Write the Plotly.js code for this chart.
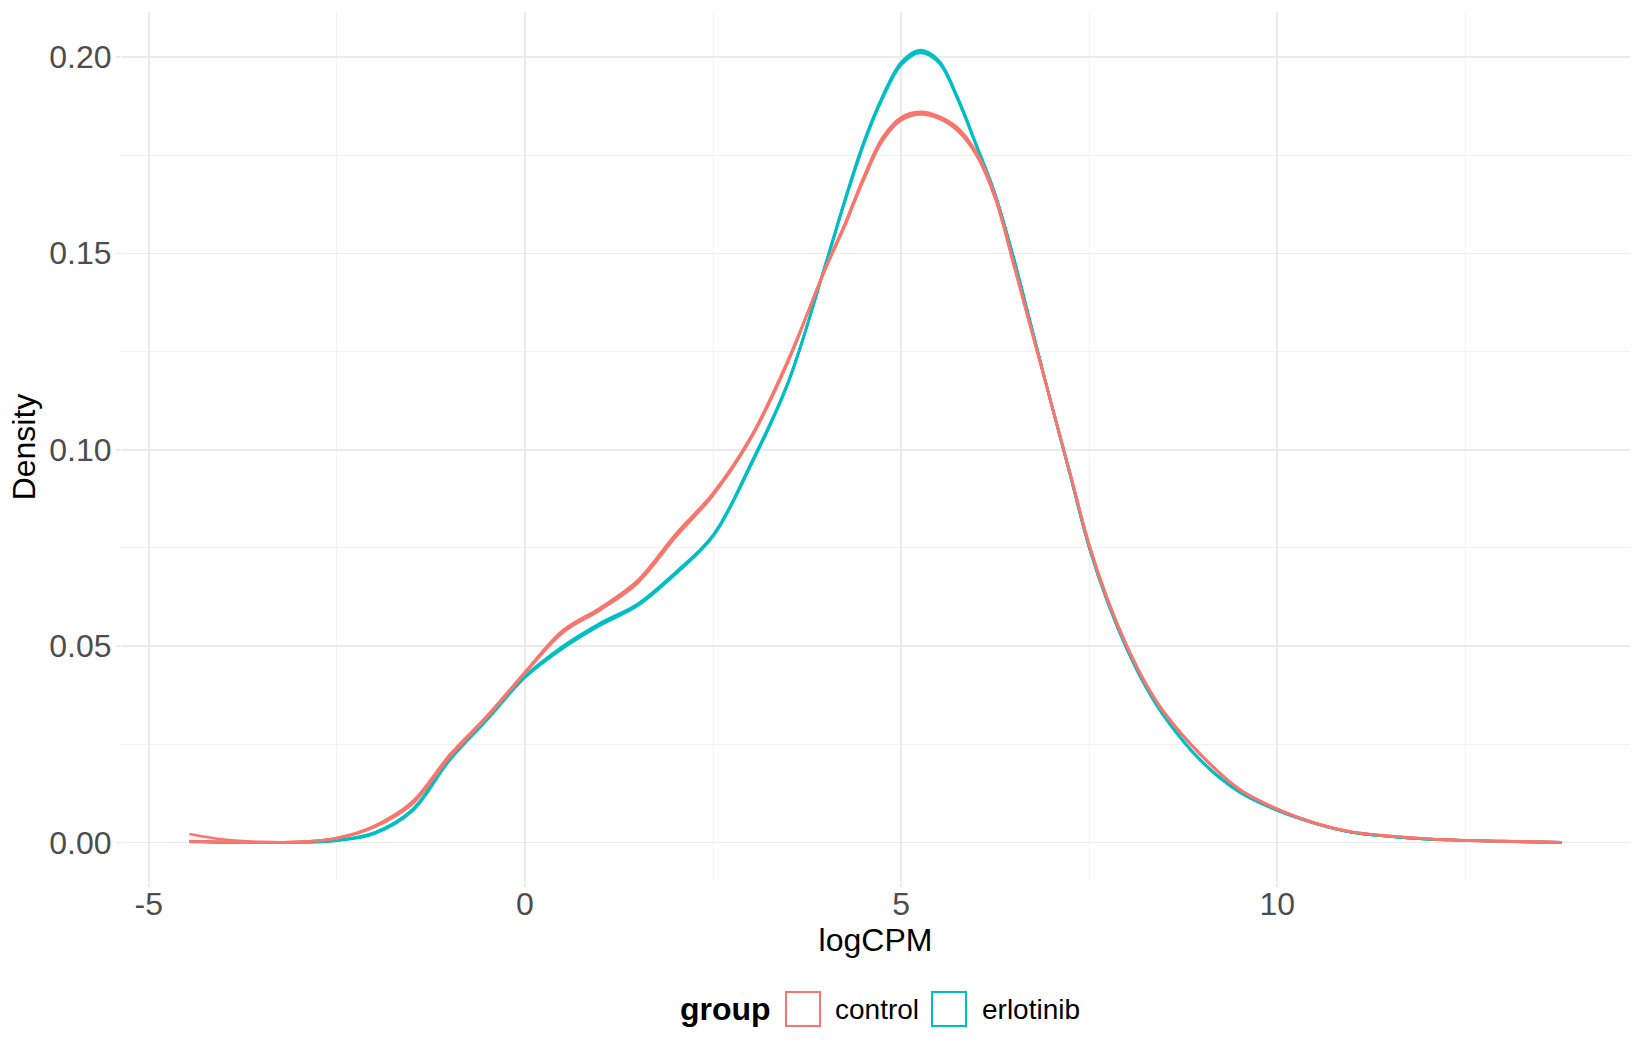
<!DOCTYPE html>
<html>
<head>
<meta charset="utf-8">
<script src="https://cdn.plot.ly/plotly-3.0.1.min.js"></script>
<style>
  html, body { margin: 0; padding: 0; background: white; }
  #plot { width: 1650px; height: 1050px; }
</style>
</head>
<body>
<div id="plot"></div>
<script>
// logCPM density per sample
const logcpm = [-4.46, -4, -3.5, -3, -2.5, -2, -1.5, -1, -0.5, 0,
                0.5, 1, 1.5, 2, 2.5, 3, 3.5, 4, 4.25, 4.5,
                4.75, 5, 5.25, 5.5, 5.75, 6, 6.25, 6.5, 6.75, 7,
                7.25, 7.5, 7.75, 8, 8.25, 8.5, 9, 9.5, 10, 10.5,
                11, 11.5, 12, 12.5, 13, 13.78];

const control1 = [0.0022, 0.0008, 0.0002, 0.0002, 0.0012, 0.0042, 0.0102, 0.0222, 0.0322, 0.0433,
                  0.0538, 0.0596, 0.0665, 0.0782, 0.0888, 0.1030, 0.1228, 0.1465, 0.1572, 0.1690,
                  0.1790, 0.1842, 0.1856, 0.1846, 0.1815, 0.1752, 0.1642, 0.1470, 0.1292, 0.1115,
                  0.0938, 0.0758, 0.0616, 0.0501, 0.0406, 0.0331, 0.0221, 0.0136, 0.0086, 0.0050,
                  0.0027, 0.0017, 0.0010, 0.0006, 0.0004, 0.0001];
const control2 = [0.0003, 0.0002, 0.0001, 0.0002, 0.0011, 0.0040, 0.0098, 0.0218, 0.0320, 0.0431,
                  0.0534, 0.0592, 0.0661, 0.0777, 0.0884, 0.1027, 0.1224, 0.1466, 0.1574, 0.1693,
                  0.1794, 0.1846, 0.1860, 0.1849, 0.1820, 0.1757, 0.1646, 0.1473, 0.1293, 0.1115,
                  0.0937, 0.0757, 0.0615, 0.0500, 0.0405, 0.0330, 0.0220, 0.0135, 0.0085, 0.0050,
                  0.0027, 0.0017, 0.0010, 0.0006, 0.0004, 0.0001];
const control3 = [0.0004, 0.0002, 0.0001, 0.0002, 0.0012, 0.0043, 0.0104, 0.0224, 0.0324, 0.0434,
                  0.0540, 0.0598, 0.0668, 0.0785, 0.0890, 0.1032, 0.1230, 0.1462, 0.1568, 0.1685,
                  0.1785, 0.1838, 0.1853, 0.1843, 0.1812, 0.1750, 0.1640, 0.1468, 0.1291, 0.1116,
                  0.0939, 0.0759, 0.0617, 0.0502, 0.0406, 0.0331, 0.0221, 0.0136, 0.0086, 0.0050,
                  0.0027, 0.0017, 0.0010, 0.0006, 0.0004, 0.0001];

const erlotinib1 = [0.0003, 0.0001, 0.0001, 0.0001, 0.0006, 0.0025, 0.0082, 0.0212, 0.0315, 0.0422,
                    0.0497, 0.0556, 0.0606, 0.0686, 0.0781, 0.0962, 0.1172, 0.1474, 0.1632, 0.1778,
                    0.1895, 0.1982, 0.2013, 0.1988, 0.1895, 0.1775, 0.1650, 0.1485, 0.1300, 0.1115,
                    0.0934, 0.0752, 0.0610, 0.0494, 0.0398, 0.0321, 0.0206, 0.0129, 0.0083, 0.0049,
                    0.0026, 0.0016, 0.0009, 0.0006, 0.0003, 0.0001];
const erlotinib2 = [0.0002, 0.0001, 0.0001, 0.0001, 0.0005, 0.0023, 0.0080, 0.0210, 0.0313, 0.0420,
                    0.0494, 0.0553, 0.0603, 0.0683, 0.0779, 0.0958, 0.1170, 0.1476, 0.1635, 0.1782,
                    0.1899, 0.1986, 0.2017, 0.1991, 0.1898, 0.1777, 0.1652, 0.1487, 0.1301, 0.1115,
                    0.0933, 0.0751, 0.0609, 0.0493, 0.0397, 0.0320, 0.0205, 0.0128, 0.0082, 0.0049,
                    0.0026, 0.0016, 0.0009, 0.0006, 0.0003, 0.0001];
const erlotinib3 = [0.0003, 0.0001, 0.0001, 0.0001, 0.0006, 0.0026, 0.0084, 0.0214, 0.0317, 0.0424,
                    0.0500, 0.0559, 0.0608, 0.0688, 0.0783, 0.0964, 0.1174, 0.1472, 0.1629, 0.1775,
                    0.1892, 0.1979, 0.2010, 0.1985, 0.1892, 0.1773, 0.1648, 0.1483, 0.1299, 0.1115,
                    0.0935, 0.0753, 0.0611, 0.0495, 0.0399, 0.0322, 0.0207, 0.0130, 0.0084, 0.0050,
                    0.0026, 0.0016, 0.0009, 0.0006, 0.0003, 0.0001];

const groups = ['control', 'erlotinib'];
const xTickVals = [-5, 0, 5, 10];
const xTickText = ['-5', '0', '5', '10'];

// ggplot default hues
const colors = { control: '#F8766D', erlotinib: '#00BFC4' };

// plot panel in pixels
const W = 1650, H = 1050;
const margin = { l: 121, r: 20, t: 12, b: 168 };
const panelW = W - margin.l - margin.r;
const panelH = H - margin.t - margin.b;
function px(x) { return (x - margin.l) / panelW; }
function py(y) { return (H - margin.b - y) / panelH; }

function densityTrace(y, group) {
    return {
        x: logcpm,
        y: y,
        type: 'scatter',
        mode: 'lines',
        name: group,
        showlegend: false,
        line: { color: colors[group], width: 2.6, shape: 'spline', smoothing: 1 },
        hoverinfo: 'skip'
    };
}

const data = [
    densityTrace(erlotinib1, 'erlotinib'),
    densityTrace(erlotinib2, 'erlotinib'),
    densityTrace(erlotinib3, 'erlotinib'),
    densityTrace(control1, 'control'),
    densityTrace(control2, 'control'),
    densityTrace(control3, 'control')
];

// hand-drawn legend to match ggplot's outlined keys
const keyBoxes = [
    { x0: 786, x1: 820, group: groups[0], textX: 833 },
    { x0: 932, x1: 966, group: groups[1], textX: 980 }
];
const shapes = keyBoxes.map(k => ({
    type: 'rect', xref: 'paper', yref: 'paper',
    x0: px(k.x0), x1: px(k.x1), y0: py(1026), y1: py(992),
    line: { color: colors[k.group], width: 2 },
    fillcolor: 'white'
}));
const annotations = keyBoxes.map(k => ({
    xref: 'paper', yref: 'paper', x: px(k.textX), y: py(1009),
    xanchor: 'left', yanchor: 'middle', showarrow: false,
    text: k.group,
    font: { family: 'Liberation Sans, Arial, sans-serif', size: 28, color: '#000000' }
}));
annotations.push({
    xref: 'paper', yref: 'paper', x: px(773), y: py(1009),
    xanchor: 'right', yanchor: 'middle', showarrow: false,
    text: '<b>group</b>',
    font: { family: 'Liberation Sans, Arial, sans-serif', size: 32, color: '#000000' }
});

const layout = {
    width: W,
    height: H,
    margin: margin,
    paper_bgcolor: 'white',
    plot_bgcolor: 'white',
    showlegend: false,
    font: { family: 'Liberation Sans, Arial, sans-serif', color: '#000000' },
    xaxis: {
        title: { text: 'logCPM', font: { size: 32, color: '#000000' }, standoff: 1 },
        range: [-5.37, 14.69],
        tickvals: xTickVals,
        ticktext: xTickText,
        tickfont: { size: 32, color: '#4D4D4D' },
        ticks: 'outside',
        ticklen: 4,
        tickwidth: 1.5,
        tickcolor: '#EBEBEB',
        ticklabelstandoff: -10,
        showgrid: true,
        gridcolor: '#EBEBEB',
        gridwidth: 1.5,
        minor: { dtick: 2.5, tick0: 0, showgrid: true, gridcolor: '#F2F2F2', gridwidth: 1 },
        zeroline: false,
        showline: false,
        automargin: false
    },
    yaxis: {
        title: { text: 'Density', font: { size: 32, color: '#000000' }, standoff: 4 },
        range: [-0.01, 0.2114],
        dtick: 0.05,
        tick0: 0,
        tickformat: '.2f',
        tickfont: { size: 32, color: '#4D4D4D' },
        ticks: 'outside',
        ticklen: 4,
        tickwidth: 1.5,
        tickcolor: '#EBEBEB',
        ticklabelstandoff: -2,
        showgrid: true,
        gridcolor: '#EBEBEB',
        gridwidth: 1.5,
        minor: { dtick: 0.025, tick0: 0, showgrid: true, gridcolor: '#F2F2F2', gridwidth: 1 },
        zeroline: false,
        showline: false,
        automargin: false
    },
    shapes: shapes,
    annotations: annotations
};

Plotly.newPlot('plot', data, layout, { displayModeBar: false, staticPlot: true });
</script>
</body>
</html>
